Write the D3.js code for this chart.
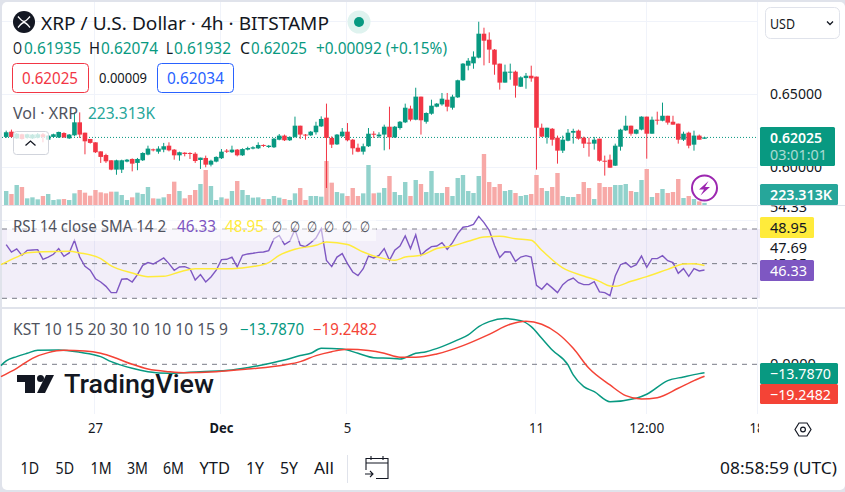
<!DOCTYPE html>
<html><head><meta charset="utf-8">
<script src="https://cdn.jsdelivr.net/npm/d3@7/dist/d3.min.js"></script>
<style>html,body{margin:0;padding:0;background:#fff;overflow:hidden}svg{display:block}text{font-family:"Noto Sans",sans-serif;fill:#131722}</style>
</head><body><svg id="c" width="845" height="492"></svg>
<script>
// Prices in ten-thousandths of a dollar (one entry per 4h candle)
const open=[6206,6242,6196,6224,6201,6196,6201,6224,6187,6206,6203,6233,6196,6217,6306,6235,6192,6169,6107,6082,6046,5982,5982,6037,6055,6028,6046,6085,6121,6105,6119,6146,6119,6080,6098,6096,6091,6048,6062,6016,6037,6060,6112,6101,6119,6080,6119,6126,6128,6151,6137,6135,6187,6215,6183,6206,6283,6222,6217,6238,6278,6338,6199,6155,6210,6242,6187,6132,6105,6142,6228,6210,6222,6276,6203,6267,6306,6400,6324,6482,6310,6365,6413,6429,6461,6406,6477,6594,6694,6710,6749,6913,6872,6804,6708,6578,6648,6653,6550,6609,6625,6619,6269,6205,6262,6201,6112,6180,6235,6249,6201,6167,6160,6194,6043,6050,6009,6139,6251,6283,6228,6256,6345,6228,6324,6317,6351,6310,6297,6187,6235,6153,6215,6193.5];
const high=[6249,6256,6233,6228,6228,6226,6233,6233,6219,6228,6242,6238,6226,6374,6374,6235,6192,6169,6107,6091,6046,6050,6050,6055,6059,6062,6101,6146,6126,6142,6165,6169,6123,6105,6101,6101,6101,6064,6078,6050,6073,6123,6123,6146,6123,6128,6139,6142,6169,6155,6151,6199,6226,6222,6210,6345,6283,6226,6247,6310,6347,6434,6210,6226,6267,6301,6192,6160,6160,6267,6245,6238,6290,6413,6281,6315,6434,6420,6543,6482,6374,6461,6438,6507,6507,6495,6598,6712,6746,6792,6995,6954,6922,6808,6708,6701,6708,6660,6621,6644,6694,6619,6297,6269,6267,6215,6215,6260,6262,6256,6208,6201,6206,6194,6078,6085,6160,6262,6351,6283,6260,6347,6345,6345,6379,6441,6351,6351,6297,6242,6242,6249,6222,6207.4];
const low=[6199,6201,6192,6187,6194,6192,6196,6169,6183,6201,6199,6199,6192,6210,6199,6087,6160,6096,6028,6028,5978,5947,5959,6032,5970,5978,6041,6080,6107,6091,6101,6107,6050,6043,6073,6055,6028,5987,5998,6004,6032,6055,6096,6096,6073,6076,6114,6121,6123,6137,6130,6130,6183,6178,6178,6201,6192,6187,6212,6222,6274,5856,6130,6151,6206,6176,6085,6101,6085,6137,6199,6199,6114,6121,6199,6256,6301,6313,6320,6222,6297,6358,6409,6420,6381,6393,6473,6589,6662,6673,6744,6696,6712,6632,6530,6578,6598,6475,6548,6536,6584,5982,6205,6160,6146,6023,6096,6176,6160,6187,6130,6071,6119,6037,5941,5995,6007,6112,6247,6215,6224,6251,6057,6228,6290,6313,6290,6290,6160,6178,6128,6112,6187,6193.2];
const close=[6238,6206,6228,6192,6224,6222,6224,6206,6215,6224,6240,6203,6222,6306,6222,6176,6165,6101,6069,6039,5982,6046,6046,6050,6023,6055,6096,6126,6114,6126,6142,6114,6080,6101,6089,6091,6041,6064,6016,6043,6069,6105,6105,6119,6080,6123,6130,6135,6151,6146,6146,6194,6215,6183,6206,6283,6222,6217,6242,6283,6329,6199,6153,6222,6242,6183,6128,6105,6142,6228,6222,6222,6276,6203,6276,6310,6406,6324,6482,6320,6370,6420,6434,6468,6413,6482,6594,6708,6728,6756,6913,6865,6804,6701,6578,6653,6653,6557,6614,6625,6607,6269,6208,6269,6187,6112,6187,6235,6247,6194,6160,6162,6187,6043,6039,5995,6146,6256,6283,6228,6256,6345,6228,6324,6320,6351,6304,6290,6187,6228,6146,6215,6187,6202.5];
// Volume in thousands
const volume=[1470,1155,2100,1890,700,805,595,945,1155,525,595,630,525,1225,1575,1295,980,1575,1330,1225,1400,1400,1050,525,805,1295,1155,1890,700,665,805,1155,2450,1470,700,1050,1575,2205,3675,1995,525,805,665,1470,2520,1575,1050,770,805,630,630,945,770,630,525,1225,1785,525,945,945,875,4620,2345,1365,1225,945,1785,945,1225,4200,1225,1295,1785,3045,1365,1050,2415,945,2625,2205,1365,3570,1260,1260,1890,945,2835,3150,1470,1260,3045,5355,2415,1890,2205,1470,1575,1260,945,1050,1155,3150,1785,1470,1890,3360,945,840,840,1155,2415,1785,630,2310,1890,1890,2100,2100,2205,1470,1365,2625,3780,840,1260,1680,1260,1365,2730,735,945,630,385,223.3];
const rsi=[61.0,56.7,58.5,54.8,57.7,57.9,58.1,52.5,53.8,55.4,58.7,54.2,56.2,63.5,53.8,48.5,46.2,41.3,39.4,36.9,33.3,33.3,41.0,41.3,39.4,43.7,49.0,50.6,49.8,51.5,53.3,50.0,46.2,48.1,48.3,47.1,40.6,43.7,39.4,42.3,46.2,52.3,52.5,53.8,48.1,54.8,55.6,56.0,56.5,56.7,57.5,64.4,66.3,61.0,62.9,69.8,60.6,59.8,62.1,64.8,70.2,51.9,48.3,53.8,55.8,50.0,45.2,43.1,47.1,54.4,53.3,54.8,58.7,51.9,57.7,60.2,66.0,58.7,66.7,54.8,57.7,59.8,60.2,62.1,58.3,62.1,67.3,71.0,71.5,72.7,77.3,73.7,69.2,60.6,53.5,56.9,56.7,51.3,53.8,54.6,53.8,37.5,35.2,38.5,36.0,33.3,37.9,40.4,41.7,39.0,37.9,37.9,39.6,33.7,33.3,31.5,42.9,49.4,50.6,47.9,49.4,54.4,47.9,52.9,52.9,54.6,51.7,50.6,44.4,47.1,42.7,47.1,45.8,46.33];
const rsiSmaAt=[-1,2,4,7,12,14,18,20,24,27,30,33,36,43,47,50,52,55,59,61,65,68,70,72,74,76,79,82,85,88,91,94,97,100,102,106,110,113,115,116,119,122,126,129,131,133];
const rsiSma=[49.4,53.8,56.3,56.9,57.1,56.2,52.9,48.7,44.6,42.5,42.7,45.2,47.1,47.1,48.3,50.6,54.8,58.3,60.6,62.5,61.0,56.7,54.4,52.9,51.9,53.8,54.8,58.7,60.2,62.9,65.4,65.8,64.4,63.5,57.7,47.5,42.9,39.8,37.1,36.9,39.8,42.5,46.7,49.8,50.0,48.95];
const kstAt=[-1,0,2,4,6,10,14,18,20,24,27,31,37,43,48,53,56,58,60,64,67,70,73,75,78,80,83,86,88,90,92,95,98,100,102,104,107,108,110,112,115,120,122,126,129,132,133];
const kst=[-2.2,5.4,12.4,17.8,22.7,23.2,19.5,12.4,4.3,-6.5,-11.9,-14.6,-11.9,-9.2,-2.2,7.0,14.1,17.8,25.9,24.9,17.8,10.8,9.7,8.6,17.8,20.5,28.6,39.5,47.6,61.1,69.2,74.1,70.8,61.1,42.2,23.2,-1.1,-17.3,-36.2,-44.3,-60.5,-55.1,-48.6,-26.5,-20.5,-15.1,-13.787];
const kstSigAt=[-1,2,5,8,11,15,18,21,24,27,31,34,40,46,53,56,59,62,65,69,72,75,78,82,87,92,96,99,102,105,108,111,115,118,121,124,128,131,133];
const kstSig=[-20,-6.5,9.7,18.9,22.7,21.6,17.8,9.7,0,-7.6,-11.9,-13.5,-11.9,-7.6,-1.1,4.3,14.1,20.5,24.3,22.2,17.8,11.4,11.4,16.8,30.3,48.6,64.9,69.7,64.9,50.3,25.9,-6.5,-33.5,-50.8,-56.2,-54.1,-38.9,-26.5,-19.2482];
const timeTickAt=[17,41,65,101,122,143];
const timeTickLabels=["27","Dec","5","11","12:00","18"];
const rangeLabels=["1D","5D","1M","3M","6M","YTD","1Y","5Y","All"];
const priceTicks=[7000,6500,6000];

const GREEN="#089981",RED="#f23645",GRID="#f0f3fa",SEP="#e0e3eb";
const svg=d3.select("#c");
const defs=svg.append("defs");
defs.append("clipPath").attr("id","clipX").append("rect").attr("x",0).attr("y",410).attr("width",759).attr("height",40);
defs.append("clipPath").attr("id","clipR").append("rect").attr("x",758).attr("y",205.5).attr("width",87).attr("height",100);

const x=d3.scaleLinear().domain([0,133]).range([6.2,704.5]);
const yP=d3.scaleLinear().domain([6000,6500]).range([167,94]);
const yV=d3.scaleLinear().domain([0,5355]).range([205,154]);
const yR=d3.scaleLinear().domain([30,70]).range([298.3,229]);
const yK=d3.scaleLinear().domain([-100,100]).range([426,302.6]);

function T(s,x0,x1,cy,size,color,opt={}){
  const t=svg.append("text").attr("x",x0).attr("y",cy).attr("dy","0.36em").attr("font-size",size).style("fill",color||"#131722").text(s);
  if(x1){t.attr("textLength",x1-x0).attr("lengthAdjust","spacingAndGlyphs");}
  if(opt.weight)t.attr("font-weight",opt.weight);
  if(opt.opacity)t.style("opacity",opt.opacity);
  if(opt.family)t.style("font-family",opt.family);
  return t;
}

// page frame
svg.append("rect").attr("width",845).attr("height",492).attr("fill",SEP);
svg.append("rect").attr("x",2).attr("y",2).attr("width",843).attr("height",488).attr("rx",5).attr("fill","#fff");

// grid
const vg=svg.append("g").attr("stroke",GRID).attr("stroke-width",1);
timeTickAt.slice(0,5).forEach(i=>vg.append("line").attr("x1",Math.round(x(i))-.5).attr("x2",Math.round(x(i))-.5).attr("y1",2).attr("y2",414));
priceTicks.forEach(p=>vg.append("line").attr("x1",2).attr("x2",757).attr("y1",Math.round(yP(p))+.5).attr("y2",Math.round(yP(p))+.5));
vg.append("line").attr("x1",2).attr("x2",757).attr("y1",220.5).attr("y2",220.5);

// volume
svg.append("g").selectAll("rect").data(volume).join("rect")
 .attr("x",(d,i)=>x(i)-2.2).attr("width",4.4)
 .attr("y",d=>yV(d)).attr("height",d=>yV(0)-yV(d))
 .attr("fill",(d,i)=>close[i]>=open[i]?"#92d2cc":"#f7a9a7");

// last price dotted
svg.append("line").attr("x1",2).attr("x2",758).attr("y1",yP(close[133])).attr("y2",yP(close[133]))
 .attr("stroke",GREEN).attr("stroke-dasharray","1 2");

// candles
const cg=svg.append("g");
cg.selectAll("line").data(open).join("line")
 .attr("x1",(d,i)=>x(i)).attr("x2",(d,i)=>x(i))
 .attr("y1",(d,i)=>yP(high[i])).attr("y2",(d,i)=>yP(low[i]))
 .attr("stroke",(d,i)=>close[i]>=open[i]?GREEN:RED).attr("stroke-width",1);
cg.selectAll("rect").data(open).join("rect")
 .attr("x",(d,i)=>x(i)-2.3).attr("width",4.6)
 .attr("y",(d,i)=>yP(Math.max(d,close[i])))
 .attr("height",(d,i)=>Math.max(1,Math.abs(yP(d)-yP(close[i]))))
 .attr("fill",(d,i)=>close[i]>=open[i]?GREEN:RED);

// separators
svg.append("rect").attr("x",2).attr("y",205).attr("width",843).attr("height",1).attr("fill",SEP);
svg.append("rect").attr("x",2).attr("y",307).attr("width",843).attr("height",2).attr("fill",SEP);
svg.append("rect").attr("x",757).attr("y",2).attr("width",1).attr("height",412).attr("fill",GRID);

// RSI pane
svg.append("rect").attr("x",2).attr("y",yR(70)).attr("width",758).attr("height",yR(30)-yR(70)).attr("fill","#7e57c2").attr("fill-opacity",.1);
[70,50,30].forEach(v=>svg.append("line").attr("x1",2).attr("x2",757).attr("y1",yR(v)).attr("y2",yR(v))
  .attr("stroke","#787b86").attr("stroke-dasharray","5 5").attr("stroke-width",1));
const lineR=d3.line().x(d=>x(d[0])).y(d=>yR(d[1]));
svg.append("path").attr("d",lineR(rsi.map((v,i)=>[i,v]))).attr("fill","none").attr("stroke","#7e57c2").attr("stroke-width",1.4);
svg.append("path").attr("d",lineR.curve(d3.curveMonotoneX)(rsiSma.map((v,i)=>[rsiSmaAt[i],v]))).attr("fill","none").attr("stroke","#ffeb3b").attr("stroke-width",1.5);

// KST pane
svg.append("line").attr("x1",2).attr("x2",757).attr("y1",yK(0)).attr("y2",yK(0)).attr("stroke","#787b86").attr("stroke-dasharray","5 5");
// watermark
const wm=svg.append("g").attr("fill","#131722");
wm.append("path").attr("d","M17 375H35V393H25V382H17Z");
wm.append("circle").attr("cx",40.5).attr("cy",378.5).attr("r",3.5);
wm.append("path").attr("d","M46 375H54L45 393H37Z");
T("TradingView",64,214,384,25.5,"#131722",{weight:500,family:"Roboto"});
const lineK=d3.line().x(d=>x(d[0])).y(d=>yK(d[1])).curve(d3.curveMonotoneX);
svg.append("path").attr("d",lineK(kst.map((v,i)=>[kstAt[i],v]))).attr("fill","none").attr("stroke",GREEN).attr("stroke-width",1.5);
svg.append("path").attr("d",lineK(kstSig.map((v,i)=>[kstSigAt[i],v]))).attr("fill","none").attr("stroke","#f44336").attr("stroke-width",1.5);

// header
svg.append("circle").attr("cx",24).attr("cy",22).attr("r",11).attr("fill","#131722");
svg.append("path").attr("d","M18 16.5C21 20 22 21.5 24 21.5S27 20 30 16.5M18 27.5C21 24 22 22.5 24 22.5S27 24 30 27.5").attr("fill","none").attr("stroke","#fff").attr("stroke-width",1.4);
T("XRP / U.S. Dollar · 4h · BITSTAMP",41,329,23,18.5,"#131722");
svg.append("circle").attr("cx",359).attr("cy",22).attr("r",11.5).attr("fill","#dff3ef");
svg.append("circle").attr("cx",359).attr("cy",22).attr("r",5).attr("fill",GREEN);
[["O",13,22],["H",89,100],["L",166,173],["C",240,250]].forEach(a=>T(a[0],a[1],a[2],48,15.5,"#131722"));
[["0.61935",24,81],["0.62074",101,158],["0.61932",174,231],["0.62025",251,307],["+0.00092 (+0.15%)",316,447]].forEach(a=>T(a[0],a[1],a[2],48,15.5,GREEN));
svg.append("rect").attr("x",12.5).attr("y",63.5).attr("width",76).attr("height",29).attr("rx",4).attr("fill","#fff").attr("stroke",RED);
svg.append("rect").attr("x",157.5).attr("y",63.5).attr("width",76).attr("height",29).attr("rx",4).attr("fill","#fff").attr("stroke","#2962ff");
T("0.62025",22,78,78.5,15.5,RED);
T("0.00009",99,147,78.5,13.5,"#131722");
T("0.62034",167,224,78.5,15.5,"#2962ff");
T("Vol · XRP",13,78,113,15.5,"#50535e");
T("223.313K",88,155,113,15.5,"#26a69a");
svg.append("rect").attr("x",13.5).attr("y",131.5).attr("width",35).attr("height",23).attr("rx",3).attr("fill","#fff").attr("fill-opacity",.78).attr("stroke","#d1d4dc");
svg.append("path").attr("d","M25.5 145.5L30.5 141L35.5 145.5").attr("fill","none").attr("stroke","#131722").attr("stroke-width",1.3);

// lightning badge
svg.append("circle").attr("cx",704.5).attr("cy",188).attr("r",12.5).attr("fill","none").attr("stroke","#9c27b0").attr("stroke-width",2);
svg.append("path").attr("d","M708.5 181L699 189.5H704L700.5 195.5L710 187H705Z").attr("fill","#9c27b0");

// legends
svg.append("rect").attr("x",7).attr("y",218).attr("width",369).attr("height",23).attr("fill","#fff").attr("fill-opacity",.5);
T("RSI 14 close SMA 14 2",13,166,226.5,15.5,"#50535e");
T("46.33",177,216,226.5,15.5,"#7e57c2");
T("48.95",225,264,226.5,15.5,"#ffeb3b");
[277,295,312,329,347,365].forEach(c=>T("∅",c-5,c+5,226.5,15,"#50535e"));
T("KST 10 15 20 30 10 10 10 15 9",13,228,329,15.5,"#50535e");
T("−13.7870",240,304,329,15.5,GREEN);
T("−19.2482",313,377,329,15.5,"#f44336");

// right price scale via d3 axis
const axP=svg.append("g").attr("transform","translate(758,0)").call(d3.axisRight(yP).tickValues([6500,6000]).tickSize(0).tickPadding(12).tickFormat(d=>d3.format(".5f")(d/1e4)));
axP.select(".domain").remove();
axP.selectAll("text").attr("font-size",14.5).attr("textLength",52).attr("lengthAdjust","spacingAndGlyphs").style("fill","#131722");
// RSI scale labels
const rsiAxisLabels=[54.33,47.69,45.05];
const yRL=d3.scaleLinear().domain([54.33,47.69]).range([207,248]);
const axR=svg.append("g").attr("clip-path","url(#clipR)").append("g").attr("transform","translate(758,0)").call(d3.axisRight(yRL).tickValues(rsiAxisLabels).tickSize(0).tickPadding(12).tickFormat(d3.format(".2f")));
axR.select(".domain").remove();
axR.selectAll("text").attr("font-size",14.5).attr("textLength",37).attr("lengthAdjust","spacingAndGlyphs").style("fill","#131722");
const axK=svg.append("g").attr("transform","translate(758,0)").call(d3.axisRight(yK).tickValues([0]).tickSize(0).tickPadding(12).tickFormat(d3.format(".4f")));
axK.select(".domain").remove();
axK.selectAll("text").attr("font-size",14.5).attr("textLength",46).attr("lengthAdjust","spacingAndGlyphs").style("fill","#131722");

// value badges
function badge(x0,x1,y0,y1,fill){svg.append("rect").attr("x",x0).attr("y",y0).attr("width",x1-x0).attr("height",y1-y0).attr("rx",1.5).attr("fill",fill);}
badge(760,835,127,166,GREEN);
T("0.62025",770,822,137.5,14.5,"#fff",{weight:600});
T("03:01:01",770,827,155,14.5,"#fff",{opacity:.65});
badge(760,838,184,205,"#26a69a");
T("223.313K",770,832,195,14.5,"#fff",{weight:600});
badge(760,814,217,238,"#ffeb3b");
T("48.95",770,807,227.5,15,"#131722");
badge(760,814,260,281,"#7e57c2");
T("46.33",770,807,270.5,15,"#fff");
badge(760,838,363,384,GREEN);
T("−13.7870",770,831,373.5,15,"#fff");
badge(760,838,384,404,"#f44336");
T("−19.2482",770,831,394.5,15,"#fff");

// USD select
svg.append("rect").attr("x",765.5).attr("y",7.5).attr("width",74).attr("height",31).attr("rx",5).attr("fill","#fff").attr("stroke",SEP);
T("USD",770,795,23.5,15,"#131722");
svg.append("path").attr("d","M827 21.5L830 24.5L833 21.5").attr("fill","none").attr("stroke","#131722").attr("stroke-width",1.3);

// time axis
const timeTickWidths=[15,24,7.5,15,35,15];
const axT=svg.append("g").attr("clip-path","url(#clipX)").append("g").attr("transform","translate(-0.5,417)")
 .call(d3.axisBottom(x).tickValues(timeTickAt).tickSize(0).tickPadding(6).tickFormat((d,i)=>timeTickLabels[i]));
axT.select(".domain").remove();
axT.selectAll("text").attr("font-size",14.5).style("fill","#131722").attr("font-weight",(d,i)=>timeTickLabels[i]==="Dec"?700:400)
 .attr("textLength",(d,i)=>timeTickWidths[i]).attr("lengthAdjust","spacingAndGlyphs");

// gear
svg.append("path").attr("d","M795 429.5L799 423H807L811 429.5L807 436H799Z").attr("fill","none").attr("stroke","#131722").attr("stroke-width",1.2);
svg.append("circle").attr("cx",803).attr("cy",429.5).attr("r",2.4).attr("fill","none").attr("stroke","#131722").attr("stroke-width",1.2);

// range bar
const rangeX=[[20.5,39],[55.5,74],[90.5,111.6],[127,148],[163,184],[199.5,230],[246,264],[280,298],[314,334]];
rangeLabels.forEach((s,i)=>T(s,rangeX[i][0],rangeX[i][1],468,16.5,"#131722"));
svg.append("line").attr("x1",347.5).attr("x2",347.5).attr("y1",455).attr("y2",483).attr("stroke",SEP);
svg.append("path").attr("d","M366 463V458.5H388V478.5H376M366 463H388M366 463V470M371 456V460M383 456V460M365 474H373M370 471L373 474L370 477").attr("fill","none").attr("stroke","#131722").attr("stroke-width",1.1);
T("08:58:59 (UTC)",720,837,468,16.5,"#131722");
</script></body></html>
